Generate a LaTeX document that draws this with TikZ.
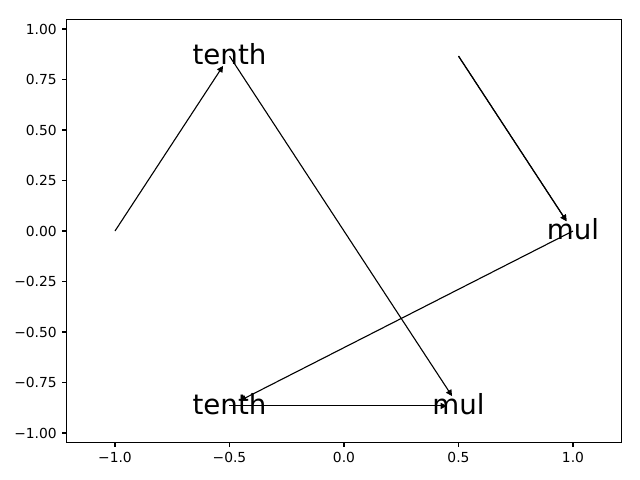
\documentclass[tikz,border=0pt]{standalone}
\usepackage{fontspec}
\setmainfont{DejaVu Sans}
\usetikzlibrary{arrows.meta}
\begin{document}
\begin{tikzpicture}[x=2.29in,y=2.02in,
  arc/.style={-{Triangle[length=4.5pt,width=4.5pt]},line width=0.8pt,shorten >=8.5pt},
  lbl/.style={font=\fontsize{20}{24}\selectfont,inner sep=0pt,text height=16pt,text depth=4pt},
  tick/.style={font=\fontsize{10}{12}\selectfont,inner sep=0pt}]
  \useasboundingbox ({-344/229},{-249/202}) rectangle ({296/229},{231/202});
  % axes frame and ticks
  \draw[line width=0.8pt] (-1.21,-1.045) rectangle (1.21,1.045);
  \foreach \v/\t in {-1/−1.0,-0.5/−0.5,0/0.0,0.5/0.5,1/1.0}
    \draw[line width=0.8pt] (\v,-1.045) -- ++(0,-3.5pt) node[tick,anchor=north,yshift=-3.5pt] {\t};
  \foreach \v/\t in {1/1.00,0.75/0.75,0.5/0.50,0.25/0.25,0/0.00,-0.25/−0.25,-0.5/−0.50,-0.75/−0.75,-1/−1.00}
    \draw[line width=0.8pt] (-1.21,\v) -- ++(-3.5pt,0) node[tick,anchor=east,xshift=-3.5pt] {\t};
  % graph
  \coordinate (src1) at (-1,0);
  \coordinate (src2) at (0.5,0.866);
  \node[lbl] (tenthA) at (-0.5,0.866) {tenth};
  \node[lbl] (mulA) at (1,0) {mul};
  \node[lbl] (tenthB) at (-0.5,-0.866) {tenth};
  \node[lbl] (mulB) at (0.5,-0.866) {mul};
  \draw[arc] (src1) -- (tenthA.center);
  \draw[arc] (tenthA.center) -- (mulB.center);
  \draw[arc] (src2) -- (mulA.center);
  \draw[arc] (src2) -- (mulA.center);
  \draw[arc] (mulA.center) -- (tenthB.center);
  \draw[arc] (tenthB.center) -- (mulB.center);
\end{tikzpicture}
\end{document}
